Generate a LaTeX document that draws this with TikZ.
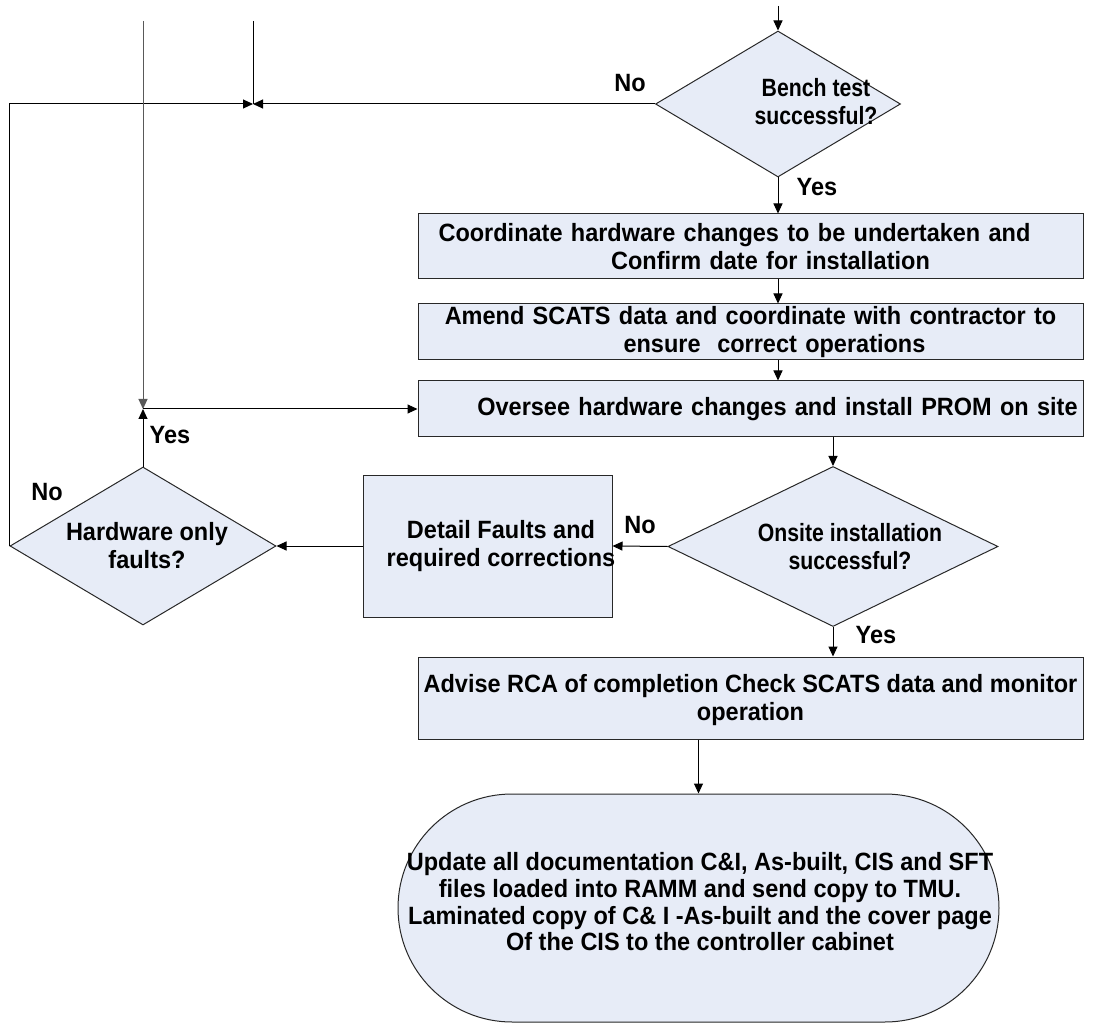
\documentclass[tikz,border=0pt]{standalone}
\usepackage{fontspec}
\setmainfont{Liberation Sans}[FakeStretch=0.94]
\newfontfamily\dfont{Liberation Sans}[FakeStretch=0.85]
\usetikzlibrary{shapes.geometric,shapes.misc,arrows.meta}
\definecolor{boxfill}{RGB}{231,236,247}
\definecolor{edge}{RGB}{40,40,40}
\begin{document}
\begin{tikzpicture}[x=1pt,y=-1pt,
  every node/.style={font=\bfseries\fontsize{25}{28}\selectfont},
  proc/.style={draw=edge, fill=boxfill, line width=1pt, rectangle, inner sep=0pt, align=center},
  dec/.style={draw=edge, fill=boxfill, line width=1pt, diamond, inner sep=0pt},
  term/.style={draw=edge, fill=boxfill, line width=1pt, rounded rectangle, inner sep=0pt},
  txt/.style={inner sep=0pt, align=center},
  dtxt/.style={inner sep=0pt, align=center, font=\dfont\bfseries\fontsize{25}{28}\selectfont},
  lbl/.style={inner sep=0pt},
  arr/.style={-{Triangle[length=10pt,width=9pt]}, line width=1pt},
  ln/.style={line width=1pt}]
\useasboundingbox (0,0) rectangle (1096,1024);

% decisions and steps
\node[dec, minimum width=245pt, minimum height=146pt] (bench) at (778,104) {};
\node[dtxt] (benchtxt) at (816,102) {Bench test\\successful?};

\node[proc, text width=665pt, minimum height=65pt] (b1) at (750.5,246.5)
  {\mbox{Coordinate hardware changes to be undertaken and\hspace*{32pt}}\\\mbox{\hspace*{40pt}Confirm date for installation}};
\node[proc, text width=665pt, minimum height=56pt] (b2) at (750.5,332)
  {\mbox{Amend SCATS data and coordinate with contractor to}\\\mbox{\hspace*{48pt}ensure\ \ correct operations}};
\node[proc, text width=665pt, minimum height=56pt] (b3) at (750.5,409)
  {\mbox{\hspace*{54pt}Oversee hardware changes and install PROM on site}};

\node[dec, minimum width=330pt, minimum height=160pt] (onsite) at (833,546.5) {};
\node[dtxt] (onsitetxt) at (850,547) {Onsite installation\\successful?};

\node[proc, minimum width=249pt, minimum height=142pt] (detail) at (487.5,546) {};
\node[txt] (detailtxt) at (501,546) {Detail Faults and\\required corrections};

\node[dec, minimum width=266pt, minimum height=158pt] (hw) at (143,546) {};
\node[txt] (hwtxt) at (147,546) {Hardware only\\faults?};

\node[proc, minimum width=665pt, minimum height=82pt] (b4) at (750.5,698) {};
\node[txt] (b4txt) at (750.5,700)
  {Advise RCA of completion Check SCATS data and monitor\\operation};

\node[term, minimum width=601pt, minimum height=228pt] (tm) at (698.5,908) {};
\node[txt, font=\bfseries\fontsize{25}{26.7}\selectfont] (tmtxt) at (700,902)
  {Update all documentation C\&I, As-built, CIS and SFT\\
   files loaded into RAMM and send copy to TMU.\\
   Laminated copy of C\& I -As-built and the cover page\\
   Of the CIS to the controller cabinet};

% free ends and junctions
\coordinate (topL) at (143,21);
\coordinate (topM) at (253,21);
\coordinate (topR) at (778,6);
\coordinate (J1) at (253,104);
\coordinate (J2) at (143,409);

% connectors
\draw[arr] (topR) -- (bench.north);
\draw[arr] (bench.west) -- (J1);
\draw[ln] (topM) -- (J1);
\draw[arr] (hw.west) |- (J1);
\draw[arr, draw=black!65] (topL) -- (J2);
\draw[arr] (hw.north) -- (J2);
\draw[arr] (J2) -- (b3.west);
\draw[arr] (bench.south) -- (bench.south |- b1.north);
\draw[arr] (bench.south |- b1.south) -- (bench.south |- b2.north);
\draw[arr] (bench.south |- b2.south) -- (bench.south |- b3.north);
\draw[arr] (onsite.north |- b3.south) -- (onsite.north);
\draw[arr] (onsite.west) -- (detail.east);
\draw[arr] (detail.west) -- (hw.east);
\draw[arr] (onsite.south) -- (onsite.south |- b4.north);
\draw[arr] (tm.north |- b4.south) -- (tm.north);

% labels
\node[lbl] (l1) at (630,83) {No};
\node[lbl] (l2) at (817,187) {Yes};
\node[lbl] (l3) at (640,525) {No};
\node[lbl] (l4) at (876,635) {Yes};
\node[lbl] (l5) at (47,492) {No};
\node[lbl] (l6) at (170,435) {Yes};
\end{tikzpicture}
\end{document}
